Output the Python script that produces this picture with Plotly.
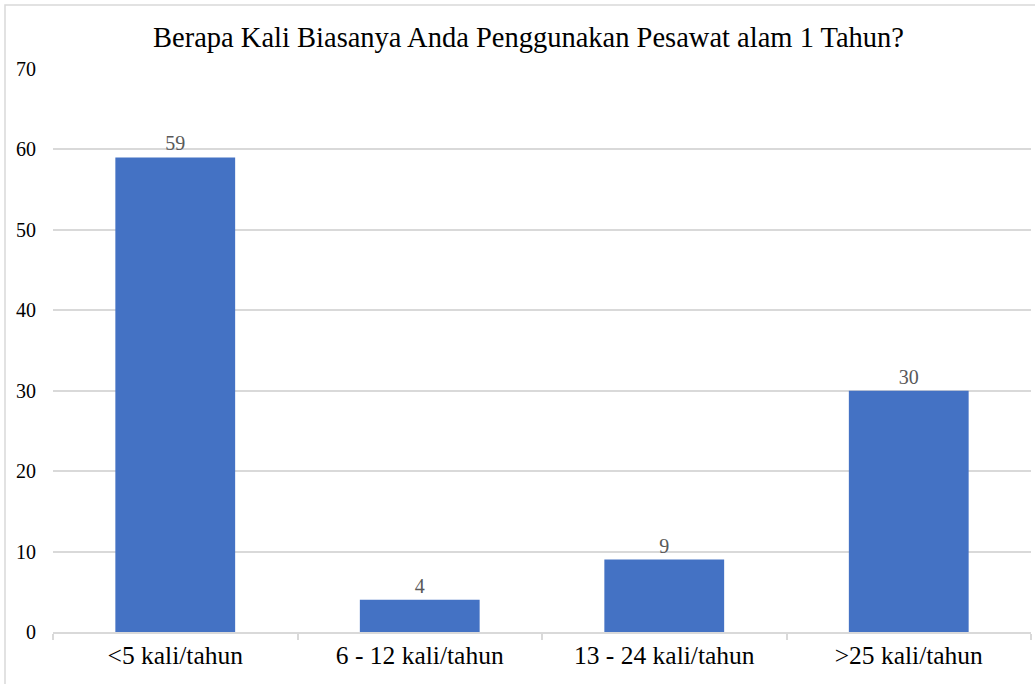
import plotly.graph_objects as go

# Survey answers: how often a plane is used in one year
categories = ["<5 kali/tahun", "6 - 12 kali/tahun", "13 - 24 kali/tahun", ">25 kali/tahun"]
counts = [59, 4, 9, 30]
y_ticks = [0, 10, 20, 30, 40, 50, 60, 70]

W, H = 1035, 684
ML, MR, MT, MB = 53, 4, 69, 52
serif = "Liberation Serif, Times New Roman, serif"

fig = go.Figure(
    go.Bar(
        x=categories,
        y=counts,
        marker=dict(color="#4472C4", line=dict(width=0)),
        text=[str(v) for v in counts],
        textposition="outside",
        cliponaxis=False,
        textfont=dict(family=serif, size=20, color="#595959"),
    )
)

# thin frame around the whole chart area
pw, ph = W - ML - MR, H - MT - MB
fig.add_shape(
    type="rect", xref="paper", yref="paper",
    x0=(5 - ML) / pw, x1=(1040 - ML) / pw,
    y0=-(690 - (H - MB)) / ph, y1=1 + (MT - 5) / ph,
    line=dict(color="#D9D9D9", width=1.5), fillcolor="rgba(0,0,0,0)", layer="below",
)

fig.update_layout(
    width=W, height=H,
    margin=dict(l=ML, r=MR, t=MT, b=MB),
    paper_bgcolor="white", plot_bgcolor="white",
    bargap=0.51,
    showlegend=False,
    title=dict(
        text="Berapa Kali Biasanya Anda Penggunakan Pesawat alam 1 Tahun?",
        x=528.5 / W, xref="container", xanchor="center",
        y=1 - 37 / H, yanchor="middle",
        font=dict(family=serif, size=28.5, color="#000000"),
    ),
    xaxis=dict(
        type="category",
        tickson="boundaries",
        ticks="outside", ticklen=6, tickcolor="#D9D9D9", tickwidth=1.5,
        showline=True, linecolor="#D9D9D9", linewidth=1.5,
        showgrid=False,
        tickfont=dict(family=serif, size=25.5, color="#000000"),
    ),
    yaxis=dict(
        range=[0, 70],
        tickvals=y_ticks,
        showgrid=True, gridcolor="#D9D9D9", gridwidth=1.5,
        zeroline=False, showline=False,
        ticks="", ticklabelstandoff=16,
        tickfont=dict(family=serif, size=20, color="#000000"),
    ),
)

fig.write_html("out.html")
